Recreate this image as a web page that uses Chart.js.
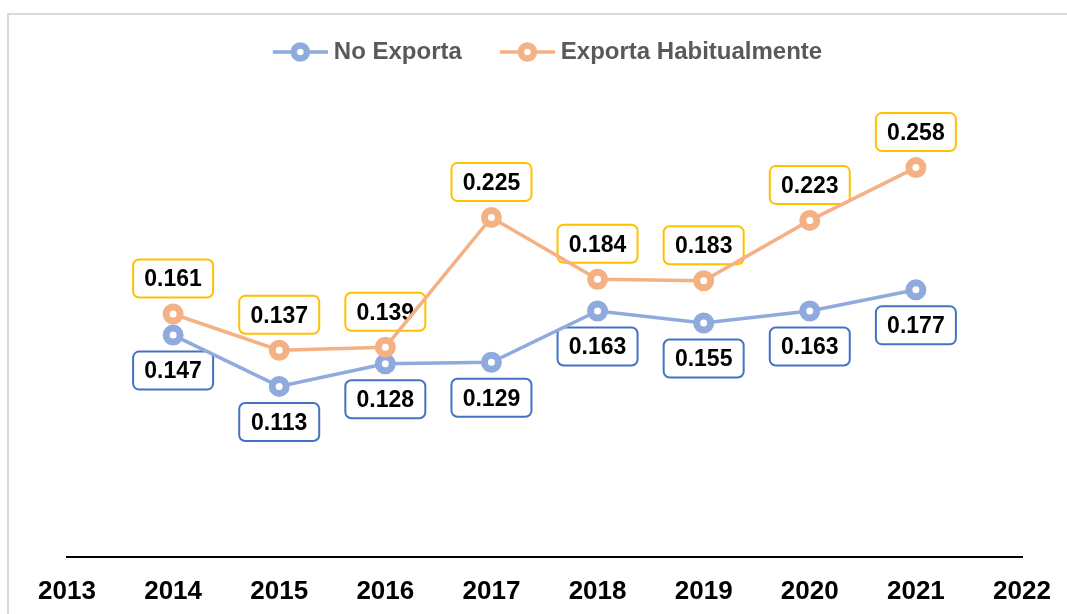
<!DOCTYPE html>
<html>
<head>
<meta charset="utf-8">
<script src="https://cdn.jsdelivr.net/npm/chart.js@4/dist/chart.umd.min.js"></script>
<style>
  html, body { margin: 0; padding: 0; background: #fff; }
  #wrap { position: relative; width: 1067px; height: 614px; }
</style>
</head>
<body>
<div id="wrap"><canvas id="c" width="1067" height="614"></canvas></div>
<script>
const years = ['2013', '2014', '2015', '2016', '2017', '2018', '2019', '2020', '2021', '2022'];
const noExporta = [null, 0.147, 0.113, 0.128, 0.129, 0.163, 0.155, 0.163, 0.177, null];
const exportaHabitualmente = [null, 0.161, 0.137, 0.139, 0.225, 0.184, 0.183, 0.223, 0.258, null];
const seriesNames = ['No Exporta', 'Exporta Habitualmente'];

const BLUE = '#8FAADC', ORANGE = '#F4B183';
const BLUE_BOX = '#4472C4', ORANGE_BOX = '#FFC000';
const FONT = '"Liberation Sans", Arial, sans-serif';

function legendIcon(color) {
  const c = document.createElement('canvas');
  c.width = 61; c.height = 24;
  const x = c.getContext('2d');
  x.strokeStyle = color; x.lineWidth = 3.5;
  x.beginPath(); x.moveTo(6, 12); x.lineTo(61, 12); x.stroke();
  x.beginPath(); x.arc(33.5, 12, 6.5, 0, Math.PI * 2);
  x.fillStyle = '#fff'; x.fill();
  x.lineWidth = 6.5; x.stroke();
  return c;
}

const framePlugin = {
  id: 'frame',
  beforeDraw(chart) {
    const ctx = chart.ctx;
    ctx.save();
    ctx.fillStyle = '#D9D9D9';
    ctx.fillRect(7, 13, 2, chart.height - 13);
    ctx.fillRect(7, 13, chart.width - 7, 2);
    ctx.restore();
  }
};

const legendShift = {
  id: 'legendShift',
  afterLayout(chart) {
    if (chart.legend) { chart.legend.left += 3; chart.legend.right += 3; }
  }
};

const labelPlugin = {
  id: 'boxLabels',
  beforeDatasetsDraw(chart) {
    const ctx = chart.ctx;
    ctx.save();
    ctx.font = 'bold 23px ' + FONT;
    ctx.textAlign = 'center';
    ctx.textBaseline = 'middle';
    chart.data.datasets.forEach((ds, di) => {
      const meta = chart.getDatasetMeta(di);
      const above = ds.labelPos === 'above';
      meta.data.forEach((pt, i) => {
        const v = ds.data[i];
        if (v === null || v === undefined) return;
        const txt = v.toFixed(3);
        const w = 80;
        const h = 38;
        const cx = pt.x;
        const cy = above ? pt.y - 35.5 : pt.y + 35.5;
        ctx.beginPath();
        ctx.roundRect(cx - w / 2, cy - h / 2, w, h, 6);
        ctx.fillStyle = '#fff';
        ctx.fill();
        ctx.lineWidth = 2;
        ctx.strokeStyle = ds.boxColor;
        ctx.stroke();
        ctx.save();
        ctx.translate(cx, cy + 1);
        ctx.scale(1, 1.08);
        ctx.fillStyle = '#000';
        ctx.fillText(txt, 0, 0);
        ctx.restore();
      });
    });
    ctx.restore();
  }
};

new Chart(document.getElementById('c'), {
  type: 'line',
  data: {
    labels: years,
    datasets: [
      {
        label: seriesNames[0],
        data: noExporta,
        borderColor: BLUE,
        backgroundColor: '#fff',
        pointBorderColor: BLUE,
        pointBackgroundColor: '#fff',
        borderWidth: 3.5,
        pointStyle: 'circle',
        pointRadius: 7,
        pointBorderWidth: 7,
        pointHoverRadius: 7,
        labelPos: 'below',
        boxColor: BLUE_BOX,
        order: 1
      },
      {
        label: seriesNames[1],
        data: exportaHabitualmente,
        borderColor: ORANGE,
        backgroundColor: '#fff',
        pointBorderColor: ORANGE,
        pointBackgroundColor: '#fff',
        borderWidth: 3.5,
        pointStyle: 'circle',
        pointRadius: 7,
        pointBorderWidth: 7,
        pointHoverRadius: 7,
        labelPos: 'above',
        boxColor: ORANGE_BOX,
        order: 0
      }
    ]
  },
  options: {
    responsive: false,
    animation: false,
    events: [],
    layout: { padding: { left: 67, right: 45, top: 2, bottom: 9 } },
    plugins: {
      tooltip: { enabled: false },
      legend: {
        display: true,
        position: 'top',
        labels: {
          usePointStyle: true,
          pointStyleWidth: 49,
          padding: 38,
          color: '#595959',
          font: { family: FONT, size: 24, weight: 'bold' },
          generateLabels(chart) {
            return chart.data.datasets.map((ds, i) => ({
              text: ds.label,
              datasetIndex: i,
              pointStyle: legendIcon(ds.borderColor),
              fillStyle: ds.borderColor,
              strokeStyle: ds.borderColor,
              lineWidth: 0,
              hidden: false,
              fontColor: '#595959'
            }));
          }
        }
      }
    },
    scales: {
      x: {
        type: 'category',
        offset: false,
        grid: { display: false, drawTicks: false },
        border: { display: true, color: '#000', width: 2 },
        afterFit(scale) {
          scale.height = 48;
          scale.paddingLeft = 0;
          scale.paddingRight = 0;
        },
        ticks: {
          color: '#000',
          padding: 19,
          maxRotation: 0,
          autoSkip: false,
          font: { family: FONT, size: 26, weight: 'bold' }
        }
      },
      y: {
        display: false,
        min: 0,
        max: 0.32
      }
    }
  },
  plugins: [framePlugin, legendShift, labelPlugin]
});
</script>
</body>
</html>
